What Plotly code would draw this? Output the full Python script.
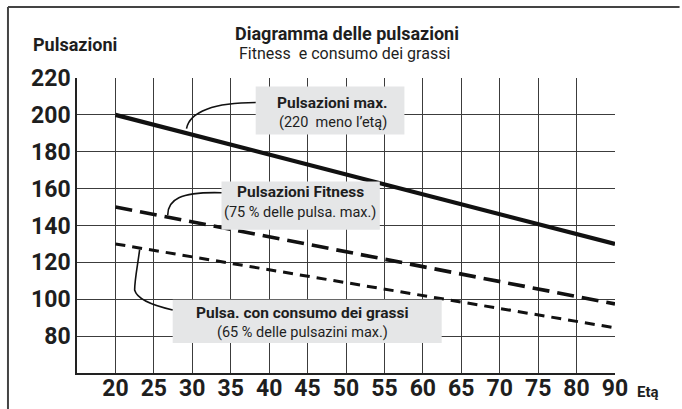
import plotly.graph_objects as go

# Age axis labels (evenly spaced, the last step jumps from 80 to 90)
age_labels = ["20", "25", "30", "35", "40", "45", "50", "55", "60", "65", "70", "75", "80", "90"]
y_ticks = [80, 100, 120, 140, 160, 180, 200, 220]

# Heart-rate series, given at the first and last age
series_ages = ["20", "90"]
max_rate = [200, 130]          # 220 minus age
fitness_rate = [150, 97.5]     # 75 % of max
fatburn_rate = [130, 84.5]     # 65 % of max

FONT = "Roboto"
INK = "#1e1e1e"
BOX = "#e5e6e7"

pos = [age_labels.index(a) for a in series_ages]

fig = go.Figure()
fig.add_trace(go.Scatter(x=pos, y=max_rate, mode="lines",
                         line=dict(color="#111", width=4.2), showlegend=False))
fig.add_trace(go.Scatter(x=pos, y=fitness_rate, mode="lines",
                         line=dict(color="#111", width=3.6, dash="17px,8px"), showlegend=False))
fig.add_trace(go.Scatter(x=pos, y=fatburn_rate, mode="lines",
                         line=dict(color="#111", width=3.0, dash="10px,7px"), showlegend=False))

shapes = []
annotations = []

# Callout boxes: (x0, x1, y0, y1, bold line, regular line, text x, y bold, y regular)
callouts = [
    (3.65, 7.52, 189.3, 215.4, "Pulsazioni max.", "(220  meno l\u2019et\u0105)", 5.65, 206.2, 195.9),
    (2.76, 6.88, 137.7, 163.8, "Pulsazioni Fitness", "(75 % delle pulsa. max.)", 4.81, 158.4, 147.0),
    (1.49, 8.49, 76.3, 99.7, "Pulsa. con consumo dei grassi", "(65 % delle pulsazini max.)", 4.86, 92.6, 81.7),
]
for x0, x1, y0, y1, t1, t2, tx, ty1, ty2 in callouts:
    shapes.append(dict(type="rect", xref="x", yref="y", x0=x0, x1=x1, y0=y0, y1=y1,
                       fillcolor=BOX, line=dict(width=0), layer="above"))
    annotations.append(dict(x=tx, y=ty1, xref="x", yref="y", text="<b>" + t1 + "</b>",
                            xanchor="center", yanchor="middle", showarrow=False,
                            font=dict(family=FONT, size=15.5, color=INK)))
    annotations.append(dict(x=tx, y=ty2, xref="x", yref="y", text=t2,
                            xanchor="center", yanchor="middle", showarrow=False,
                            font=dict(family=FONT, size=14.5, color=INK)))

# Curved leader lines from each curve to its box
leaders = [
    "M 1.85,192.6 C 1.93,201.8 2.58,206.7 3.65,206.7",
    "M 1.36,145.6 C 1.36,154 1.67,158.4 2.76,157.8",
    "M 0.63,126.9 C 0.58,118.7 0.50,110.5 0.50,105.0 C 0.55,100.8 0.89,97.0 1.49,94.2",
]
for p in leaders:
    shapes.append(dict(type="path", xref="x", yref="y", path=p,
                       line=dict(color="#111", width=1.6), layer="above"))

# Outer frame (top and left edges)
shapes.append(dict(type="line", xref="paper", yref="paper", x0=-0.1283, x1=1.12, y0=1.2407, y1=1.2407,
                   line=dict(color="#444", width=2)))
shapes.append(dict(type="line", xref="paper", yref="paper", x0=-0.1283, x1=-0.1283, y0=1.2407, y1=-0.13,
                   line=dict(color="#444", width=2)))

annotations += [
    dict(x=0.501, y=1.1525, xref="paper", yref="paper", text="<b>Diagramma delle pulsazioni</b>",
         xanchor="center", yanchor="middle", showarrow=False, font=dict(family=FONT, size=18, color=INK)),
    dict(x=0.497, y=1.0814, xref="paper", yref="paper", text="Fitness  e consumo dei grassi",
         xanchor="center", yanchor="middle", showarrow=False, font=dict(family=FONT, size=16, color=INK)),
    dict(x=-0.004, y=1.112, xref="paper", yref="paper", text="<b>Pulsazioni</b>",
         xanchor="center", yanchor="middle", showarrow=False, font=dict(family=FONT, size=18, color=INK)),
    dict(x=1.0613, y=-0.064, xref="paper", yref="paper", text="<b>Et\u0105</b>",
         xanchor="center", yanchor="middle", showarrow=False, font=dict(family=FONT, size=15, color=INK)),
]

fig.update_layout(
    width=682, height=409,
    margin=dict(l=77, r=67, t=78, b=36),
    paper_bgcolor="white", plot_bgcolor="white",
    shapes=shapes, annotations=annotations,
    xaxis=dict(range=[-1, 13], tickmode="array", tickvals=list(range(len(age_labels))),
               ticktext=age_labels, showgrid=True, gridcolor="#3c3c3c", gridwidth=1.2,
               zeroline=False, showline=True, linecolor="#222", linewidth=1.5, automargin=False,
               ticks="", ticklabelstandoff=-6,
               tickfont=dict(family=FONT, size=23, color=INK, weight="bold")),
    yaxis=dict(range=[60, 220], tickmode="array", tickvals=y_ticks,
               showgrid=True, gridcolor="#3c3c3c", gridwidth=1.2,
               zeroline=False, showline=True, linecolor="#222", linewidth=1.5, automargin=False,
               ticks="", tickfont=dict(family=FONT, size=23, color=INK, weight="bold")),
)

fig.write_html("out.html")
